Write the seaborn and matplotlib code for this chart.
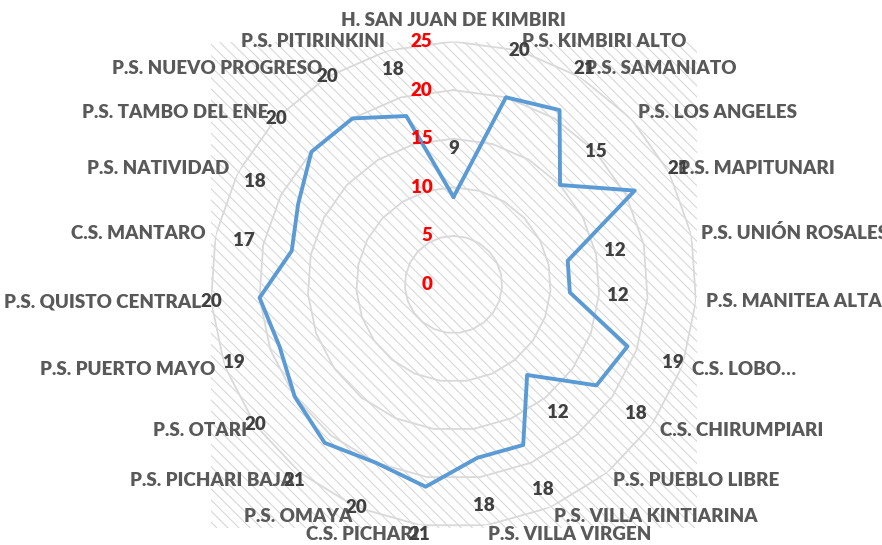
import numpy as np
import pandas as pd
import matplotlib
matplotlib.use('Agg')
import matplotlib.pyplot as plt
from matplotlib.patches import Rectangle
import seaborn as sns

# categories (clockwise from top) and values
categories = [
    'H. SAN JUAN DE KIMBIRI', 'P.S. KIMBIRI ALTO', 'P.S. SAMANIATO', 'P.S. LOS ANGELES',
    'P.S. MAPITUNARI', 'P.S. UNIÓN ROSALES', 'P.S. MANITEA ALTA', 'C.S. LOBO…',
    'C.S. CHIRUMPIARI', 'P.S. PUEBLO LIBRE', 'P.S. VILLA KINTIARINA', 'P.S. VILLA VIRGEN',
    'C.S. PICHARI', 'P.S. OMAYA', 'P.S. PICHARI BAJA', 'P.S. OTARI', 'P.S. PUERTO MAYO',
    'P.S. QUISTO CENTRAL', 'C.S. MANTARO', 'P.S. NATIVIDAD', 'P.S. TAMBO DEL ENE',
    'P.S. NUEVO PROGRESO', 'P.S. PITIRINKINI',
]
values = [9, 20, 21, 15, 21, 12, 12, 19, 18, 12, 18, 18, 21, 20, 21, 20, 19, 20, 17, 18, 20, 20, 18]
r_ticks = [0, 5, 10, 15, 20, 25]

sns.set_theme(style='white')
plt.rcParams['font.family'] = ['Lato', 'DejaVu Sans']
plt.rcParams['hatch.linewidth'] = 0.75

n = len(categories)
theta = np.linspace(0, 2 * np.pi, n, endpoint=False)
df = pd.DataFrame({'theta': np.append(theta, 2 * np.pi), 'value': values + values[:1]})

fig = plt.figure(figsize=(8.82, 5.45), dpi=100)
box = [210.5 / 882, (545 - 527.5) / 545, 486 / 882, 486 / 545]

# hatched plot area behind the radar
fig.patches.append(Rectangle((box[0], box[1]), box[2], box[3], transform=fig.transFigure,
                             facecolor='white', edgecolor='#d6d6d6', hatch='\\' * 3,
                             lw=0, zorder=-1))

ax = fig.add_axes(box, projection='polar')
ax.set_facecolor('none')
ax.set_theta_zero_location('N')
ax.set_theta_direction(-1)
ax.set_ylim(0, 25)
ax.grid(False)
ax.spines['polar'].set_visible(False)
ax.set_xticks([])
ax.set_yticks([])

# polygon gridlines
ring = np.append(theta, 0)
for lvl in r_ticks[1:]:
    ax.plot(ring, [lvl] * len(ring), color='#d9d9d9', lw=1.3, zorder=1)

sns.lineplot(data=df, x='theta', y='value', sort=False, color='#5b9bd5', lw=2.8, ax=ax, zorder=3)
ax.set_xlabel('')
ax.set_ylabel('')

fs = 13.5

# red axis values
for t in r_ticks:
    ax.annotate(str(t), (0, t), xytext=(-21, 0), textcoords='offset pixels', ha='right',
                va='center', color='red', fontsize=fs, fontweight='heavy', zorder=4)

# data labels
for th, v in zip(theta, values):
    ax.text(th, v + 5, str(v), ha='center', va='center', color='#404040',
            fontsize=fs, fontweight='heavy', zorder=4)

# category labels
for th, name in zip(theta, categories):
    s = np.sin(th)
    if s > 0.05:
        ha = 'left'
    elif s < -0.05:
        ha = 'right'
    else:
        ha = 'center'
    if th == 0:
        ax.text(th, 26.3, name, ha=ha, va='bottom', color='#595959', fontsize=fs, fontweight='heavy')
    else:
        ax.text(th, 26.0, name, ha=ha, va='center', color='#595959', fontsize=fs, fontweight='heavy')

fig.savefig('out.png', dpi=100)
